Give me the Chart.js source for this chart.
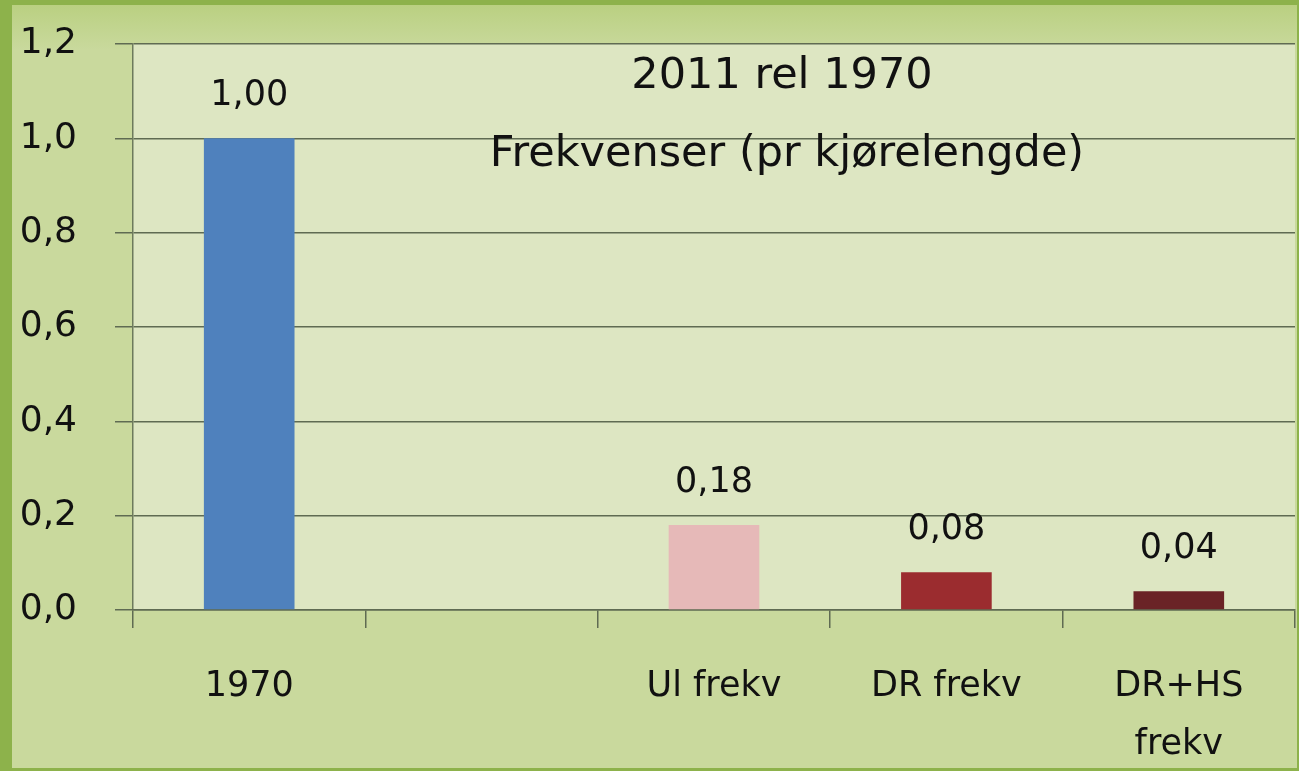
<!DOCTYPE html>
<html>
<head>
<meta charset="utf-8">
<script src="https://cdn.jsdelivr.net/npm/chart.js@4"></script>
<style>
    html, body { margin: 0; padding: 0; background: #c9d99d; }
    #wrap { width: 1299px; height: 771px; position: relative; }
</style>
</head>
<body>
<div id="wrap"><canvas id="myChart" width="1299" height="771"></canvas></div>
<script>
// ---- data ----
const categories = ['1970', '', 'Ul frekv', 'DR frekv', ['DR+HS', 'frekv']];
const values = [1.00, null, 0.18, 0.08, 0.04];
const barColors = ['#4f81bd', '#4f81bd', '#e6b9b8', '#9b2c2f', '#6a2326'];
const titleLines = ['2011 rel 1970', 'Frekvenser (pr kjørelengde)'];
const yTicks = [0, 0.2, 0.4, 0.6, 0.8, 1.0, 1.2];

const fontFamily = "DejaVu Sans";
const comma = (v, d) => v.toFixed(d).replace('.', ',');

// background + border + title + value labels
const decor = {
    id: 'decor',
    beforeDraw(chart) {
        const c = chart.ctx, a = chart.chartArea;
        c.save();
        let g = c.createLinearGradient(0, 0, 0, 50);
        g.addColorStop(0, '#b8cf7e');
        g.addColorStop(1, '#c9d99d');
        c.fillStyle = '#c9d99d';
        c.fillRect(0, 0, chart.width, chart.height);
        c.fillStyle = g;
        c.fillRect(0, 0, chart.width, 50);
        c.fillStyle = '#dde6c2';
        c.fillRect(a.left, a.top, a.right - a.left, a.bottom - a.top);
        // green frame
        c.fillStyle = '#8db24b';
        c.fillRect(0, 0, 12, chart.height);
        c.fillRect(0, 0, chart.width, 5);
        c.fillRect(0, chart.height - 3, chart.width, 3);
        c.fillRect(chart.width - 2, 0, 2, chart.height);
        c.restore();
    },
    afterDatasetsDraw(chart) {
        const c = chart.ctx;
        c.save();
        c.fillStyle = '#111';
        c.textAlign = 'center';
        c.textBaseline = 'middle';
        c.font = '43px ' + fontFamily;
        c.fillText(titleLines[0], 782, 77);
        c.fillText(titleLines[1], 787, 155);

        c.font = '35px ' + fontFamily;
        const meta = chart.getDatasetMeta(0);
        meta.data.forEach((bar, i) => {
            if (values[i] === null) return;
            c.fillText(comma(values[i], 2), bar.x, bar.y - 42);
        });
        c.restore();
    }
};

const ctx = document.getElementById('myChart');

new Chart(ctx, {
    type: 'bar',
    data: {
        labels: categories,
        datasets: [
            {
                data: values,
                backgroundColor: barColors,
                categoryPercentage: 1.0,
                barPercentage: 0.39,
            }
        ]
    },
    options: {
        responsive: false,
        animation: false,
        layout: {
            padding: { left: 12, right: 4, top: 44, bottom: 3 }
        },
        plugins: {
            legend: { display: false },
            tooltip: { enabled: false }
        },
        scales: {
            y: {
                min: 0,
                max: 1.2,
                afterBuildTicks(scale) {
                    scale.ticks = yTicks.map(v => ({ value: v }));
                },
                afterFit(scale) {
                    scale.width = 121;
                    scale.paddingTop = 0;
                    scale.paddingBottom = 0;
                },
                ticks: {
                    color: '#111',
                    padding: 38,
                    font: { size: 36, family: fontFamily },
                    callback: v => comma(v, 1)
                },
                grid: {
                    color: '#5f6b52',
                    lineWidth: 1.5,
                    tickLength: 18
                },
                border: { color: '#6d7a5c', width: 1.5 }
            },
            x: {
                afterFit(scale) {
                    scale.height = 158;
                },
                ticks: {
                    color: '#111',
                    padding: 30,
                    maxRotation: 0,
                    font: { size: 35, family: fontFamily, lineHeight: 1.65 }
                },
                grid: {
                    offset: true,
                    drawOnChartArea: false,
                    color: '#5f6b52',
                    lineWidth: 1.5,
                    tickLength: 18
                },
                border: { color: '#5f6b52', width: 1.5 }
            }
        }
    },
    plugins: [decor]
});
</script>
</body>
</html>
